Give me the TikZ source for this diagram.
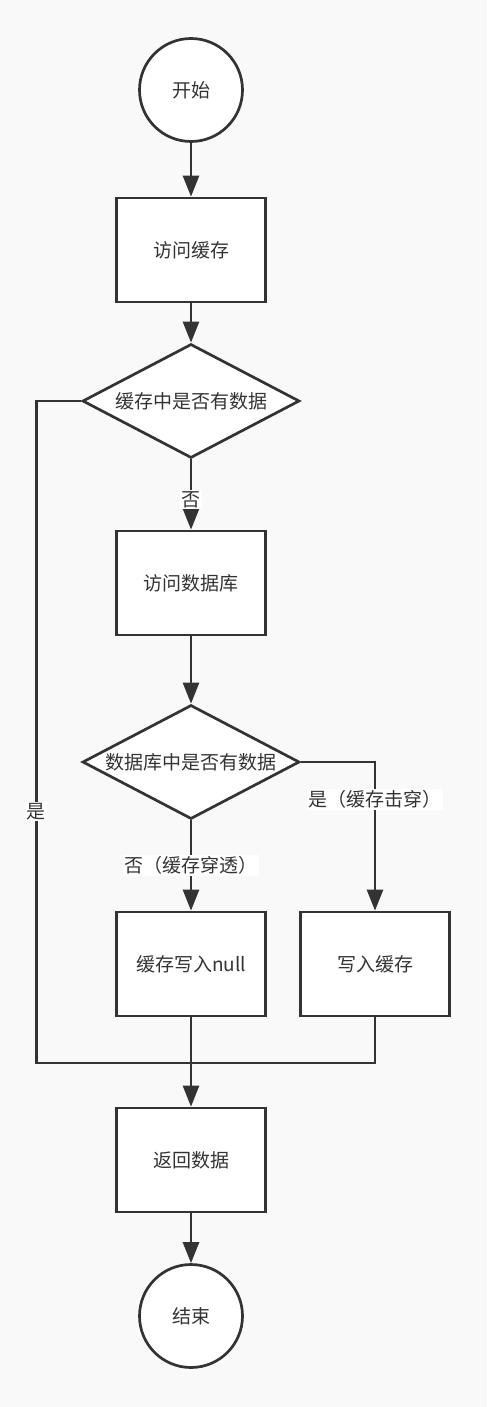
\documentclass[tikz,border=0pt]{standalone}
\usepackage{fontspec}
\setmainfont{Noto Sans CJK SC}
\usetikzlibrary{arrows.meta,shapes.geometric}
\definecolor{ink}{HTML}{333333}
\definecolor{paper}{HTML}{F9F9F9}
\begin{document}
\begin{tikzpicture}[x=1pt,y=-1pt,font=\fontsize{19}{22}\selectfont,text=ink,
	startend/.style={circle, draw=ink, fill=white, line width=2.7pt, minimum size=103pt, inner sep=0pt},
	stepbox/.style={rectangle, draw=ink, fill=white, line width=2.7pt, minimum width=149pt, minimum height=104pt},
	check/.style={diamond, draw=ink, fill=white, line width=2.7pt, aspect=1.9, inner sep=0pt, minimum width=217pt, minimum height=114pt},
	flow/.style={draw=ink, line width=2.7pt, -{Triangle[length=21pt,width=16pt]}},
	link/.style={draw=ink, line width=2.7pt},
	tag/.style={fill=white, inner sep=1.5pt, text=ink}]
	\fill[paper] (0,0) rectangle (487,1407);
	\node[startend] (start) at (191,90) {开始};
	\node[stepbox] (cache) at (191,250) {访问缓存};
	\node[check] (incache) at (191,401) {缓存中是否有数据};
	\node[stepbox] (db) at (191,583) {访问数据库};
	\node[check] (indb) at (191,762) {数据库中是否有数据};
	\node[stepbox] (setnull) at (191,964) {缓存写入null};
	\node[stepbox] (setcache) at (375,964) {写入缓存};
	\node[stepbox] (result) at (191,1160) {返回数据};
	\node[startend] (stop) at (191,1316) {结束};
	\coordinate (join) at (191,1063);
	\draw[flow] (start) -- (cache);
	\draw[flow] (cache) -- (incache);
	\draw[flow] (incache) -- node[tag,pos=0.57] (nocache) {否} (db);
	\draw[flow] (db) -- (indb);
	\draw[flow] (indb) -- node[tag] (nodb) {否（缓存穿透）} (setnull);
	\draw[flow] (indb.east) -| node[tag,pos=0.625] (yesdb) {是（缓存击穿）} (setcache);
	\draw[link] (incache.west) -- ++(-45,0) |- node[tag,pos=0.31] (yescache) {是} (join);
	\draw[link] (setcache) |- (join);
	\draw[flow] (setnull) -- (result);
	\draw[flow] (result) -- (stop);
\end{tikzpicture}
\end{document}
